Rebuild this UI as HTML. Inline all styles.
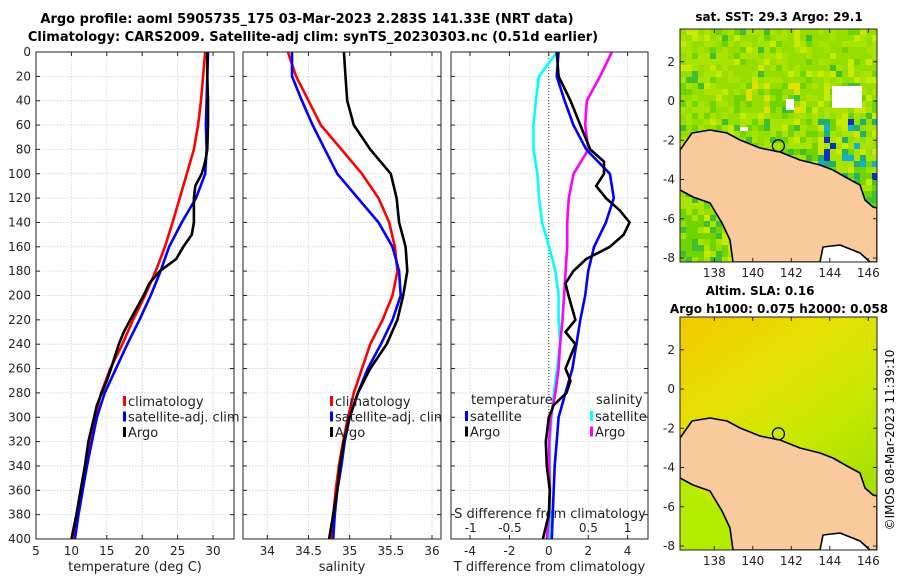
<!DOCTYPE html>
<html><head><meta charset="utf-8">
<style>
html,body{margin:0;padding:0;background:#fff;}
svg{display:block;font-family:"DejaVu Sans","Liberation Sans",sans-serif;}
</style></head>
<body>
<svg id="fig" width="900" height="580" viewBox="0 0 900 580" xmlns="http://www.w3.org/2000/svg">
<text x="307" y="23" font-size="13" font-weight="bold" text-anchor="middle">Argo profile: aoml 5905735_175 03-Mar-2023 2.283S 141.33E (NRT data)</text>
<text x="313" y="41" font-size="13" font-weight="bold" text-anchor="middle">Climatology: CARS2009. Satellite-adj clim: synTS_20230303.nc (0.51d earlier)</text>
<text x="779" y="21" font-size="12" font-weight="bold" text-anchor="middle">sat. SST: 29.3 Argo: 29.1</text>
<text x="760" y="295" font-size="12" font-weight="bold" text-anchor="middle">Altim. SLA: 0.16</text>
<text x="779" y="313" font-size="12" font-weight="bold" text-anchor="middle">Argo h1000: 0.075 h2000: 0.058</text>
<text transform="translate(894,440) rotate(-90)" font-size="12" text-anchor="middle">©IMOS 08-Mar-2023 11:39:10</text>
<g id="layer"></g>
</svg>
<script>
// ---- data ----
const depths = [0,20,40,60,80,100,120,140,160,180,200,220,240,260,280,300,320,340,360,380,400];
const tempClim = [28.9,28.6,28.3,27.9,27.3,26.3,25.3,24.3,23.2,21.9,20.4,18.7,17.2,15.5,14.2,13.3,12.6,12.0,11.4,10.9,10.4];
const tempSat  = [29.3,29.2,29.1,29.0,29.1,28.9,27.6,25.6,23.8,22.6,21.2,19.6,17.9,16.3,14.7,13.6,12.9,12.2,11.6,11.0,10.5];
const argoDepths = [0,20,40,60,80,90,100,110,120,130,140,150,160,170,180,190,200,220,230,240,260,270,280,290,300,320,340,360,380,400];
const tempArgo = [29.2,29.2,29.3,29.3,29.2,28.9,28.4,27.5,27.3,27.3,27.3,27.0,25.8,24.8,22.5,21.0,20.2,18.3,17.4,16.7,15.6,15.0,14.3,13.6,13.2,12.4,11.9,11.3,10.7,10.0];
const salClim = [34.25,34.35,34.5,34.65,34.9,35.15,35.35,35.48,35.55,35.58,35.52,35.4,35.25,35.15,35.05,34.98,34.92,34.87,34.83,34.8,34.78];
const salSat  = [34.3,34.3,34.42,34.55,34.7,34.85,35.1,35.35,35.52,35.6,35.62,35.52,35.38,35.22,35.1,35.0,34.94,34.9,34.85,34.82,34.8];
const salArgo = [34.93,34.95,34.97,35.05,35.25,35.5,35.57,35.6,35.68,35.7,35.65,35.58,35.45,35.25,35.1,35.0,34.93,34.88,34.85,34.8,34.75];
const dTsat  = [0.5,0.4,0.8,1.25,1.9,3.1,3.3,2.9,2.3,2.0,1.85,1.6,1.4,1.2,0.85,0.5,0.4,0.3,0.25,0.2,0.15];
const dTargo = [0.4,0.5,1.1,1.6,2.1,2.8,2.8,2.4,2.9,3.6,4.1,3.8,3.1,1.9,1.25,0.85,1.0,1.35,0.85,1.35,0.85,1.1,0.9,0.25,0,-0.15,-0.1,0.05,0,-0.3];
const dSsat  = [0.1,-0.13,-0.17,-0.2,-0.2,-0.15,-0.13,-0.09,0,0.08,0.12,0.12,0.14,0.1,0.06,0.03,0.01,0.01,0.01,0.01,0.01];
const dSargo = [0.8,0.65,0.48,0.46,0.5,0.31,0.25,0.23,0.23,0.21,0.19,0.17,0.14,0.12,0.08,0.02,0,0,0.01,0,-0.03];
const depthTicks = [0,20,40,60,80,100,120,140,160,180,200,220,240,260,280,300,320,340,360,380,400];
const tempTicks = [5,10,15,20,25,30];
const salTicks = [34,34.5,35,35.5,36];
const dTTicks = [-4,-2,0,2,4];
const dSTicks = [-1,-0.5,0,0.5,1];
const lonTicks = [138,140,142,144,146];
const latTicks = [2,0,-2,-4,-6,-8];
const argoLon = 141.33, argoLat = -2.283;

// ---- helpers ----
const NS="http://www.w3.org/2000/svg";
const L=document.getElementById('layer');
function mk(tag,at,parent){const e=document.createElementNS(NS,tag);for(const k in at)e.setAttribute(k,at[k]);(parent||L).appendChild(e);return e;}
const TOP=52,BOT=539;
const yD=d=>TOP+(d/400)*(BOT-TOP);
function lin(d0,d1,r0,r1){return v=>r0+(v-d0)/(d1-d0)*(r1-r0);}

function panel(name,x0,x1,xs,ticks,fmt,xlabel,showY){
  const g=mk('g',{});
  
  
  for(const d of depthTicks){const l=mk('line',{x1:x0,x2:x1,y1:yD(d),y2:yD(d),stroke:'#c9d0e6','stroke-width':0.8,'stroke-dasharray':'1.5,1.5'},g);
    }
  for(const t of ticks){const X=xs(t);const l=mk('line',{x1:X,x2:X,y1:TOP,y2:BOT,stroke:'#c9d0e6','stroke-width':0.8,'stroke-dasharray':'1.5,1.5'},g);
    
    mk('line',{x1:X,x2:X,y1:BOT,y2:BOT-4,stroke:'#222'},g);mk('line',{x1:X,x2:X,y1:TOP,y2:TOP+4,stroke:'#222'},g);
    const tx=mk('text',{x:X,y:BOT+16,'font-size':12,'text-anchor':'middle',fill:'#222'},g);tx.textContent=fmt(t);
    }
  for(const d of depthTicks){mk('line',{x1:x0,x2:x0+4,y1:yD(d),y2:yD(d),stroke:'#222'},g);mk('line',{x1:x1,x2:x1-4,y1:yD(d),y2:yD(d),stroke:'#222'},g);
    if(showY){const tx=mk('text',{x:x0-5,y:yD(d)+4,'font-size':12,'text-anchor':'end',fill:'#222'},g);tx.textContent=d;
      }}
  if(xlabel){const tx=mk('text',{x:(x0+x1)/2,y:BOT+32,'font-size':13,'text-anchor':'middle',fill:'#222'},g);tx.textContent=xlabel;
    }
  return g;
}
function frame(g,x0,x1){const r=mk('rect',{x:x0,y:TOP,width:x1-x0,height:BOT-TOP,fill:'none',stroke:'#222','stroke-width':1},g);
  }
function series(g,name,vals,ds,xs,color,x0,x1){
  const pts=vals.map((v,i)=>Math.max(x0,Math.min(x1,xs(v))).toFixed(1)+','+yD(ds[i]).toFixed(1)).join(' ');
  const p=mk('polyline',{points:pts,fill:'none',stroke:color,'stroke-width':2.6,'stroke-linejoin':'round'},g);
  
  
}
function legend(g,x,y,items){
  items.forEach((it,i)=>{
    const yy=y+i*15.5;
    const m=mk('rect',{x:x,y:yy-10,width:3,height:10,fill:it[1]},g);
    
    const t=mk('text',{x:x+5,y:yy,'font-size':13,fill:'#222'},g);t.textContent=it[0];
    
  });
}

// panel 1 temperature
{const x0=36,x1=234,xs=lin(5,30,36,213);
 const g=panel('temperature-panel',x0,x1,xs,tempTicks,v=>v,'temperature (deg C)',true);
 series(g,'temp-climatology-line',tempClim,depths,xs,'#ff0000',x0,x1);
 series(g,'temp-satellite-line',tempSat,depths,xs,'#0000ff',x0,x1);
 series(g,'temp-argo-line',tempArgo,argoDepths,xs,'#000000',x0,x1);
 legend(g,123,406,[['climatology','#ff0000'],['satellite-adj. clim','#0000ff'],['Argo','#000']]);
 frame(g,x0,x1);}
// panel 2 salinity
{const x0=243,x1=441,xs=lin(34,36,267.3,432);
 const g=panel('salinity-panel',x0,x1,xs,salTicks,v=>v,'salinity',false);
 series(g,'sal-climatology-line',salClim,depths,xs,'#ff0000',x0,x1);
 series(g,'sal-satellite-line',salSat,depths,xs,'#0000ff',x0,x1);
 series(g,'sal-argo-line',salArgo,depths,xs,'#000000',x0,x1);
 const cp=mk('clipPath',{id:'cp2'});mk('rect',{x:x0,y:0,width:x1-x0,height:580},cp);
 const lg=mk('g',{'clip-path':'url(#cp2)'},g);
 legend(lg,330,406,[['climatology','#ff0000'],['satellite-adj. clim','#0000ff'],['Argo','#000']]);
 frame(g,x0,x1);}
// panel 3 differences
{const x0=451,x1=648,xs=lin(-4,4,470,627.6),ss=lin(-1,1,470.7,627.6);
 const g=panel('difference-panel',x0,x1,xs,dTTicks,v=>v,'T difference from climatology',false);
 const z=mk('line',{x1:xs(0),x2:xs(0),y1:TOP,y2:BOT,stroke:'#333','stroke-width':1,'stroke-dasharray':'1,2'},g);
 
 for(const t of dSTicks){const tx=mk('text',{x:ss(t),y:532,'font-size':12,'text-anchor':'middle',fill:'#222'},g);tx.textContent=t;
   }
 const st=mk('text',{x:550,y:518,'font-size':13,'text-anchor':'middle',fill:'#222'},g);st.textContent='S difference from climatology';
 
 series(g,'dS-satellite-line',dSsat,depths,ss,'#00ffff',x0,x1);
 series(g,'dS-argo-line',dSargo,depths,ss,'#ff00ff',x0,x1);
 series(g,'dT-satellite-line',dTsat,depths,xs,'#0000ff',x0,x1);
 series(g,'dT-argo-line',dTargo,argoDepths,xs,'#000000',x0,x1);
 const h1=mk('text',{x:471,y:404,'font-size':13,fill:'#222'},g);h1.textContent='temperature';
 
 const h2=mk('text',{x:596,y:404,'font-size':13,fill:'#222'},g);h2.textContent='salinity';
 
 legend(g,465,421,[['satellite','#0000ff'],['Argo','#000']]);
 legend(g,590,421,[['satellite','#00ffff'],['Argo','#ff00ff']]);
 frame(g,x0,x1);}

// ---- maps ----
const MX0=680,MX1=877;
const lonS=lin(138,146,714.3,868.3);
const coast=[[0,121],[12,104],[30,101],[47,104],[60,111],[80,119],[100,123],[120,131],[140,136],[153,141],[167,149],[180,156],[185,171],[193,178],[197,179],[197,233],[190,233],[180,224],[160,216],[143,218],[140,233],[53,233],[50,211],[42,194],[30,174],[13,168],[0,161]];
function hash(i,j,s){let h=(i*374761393+j*668265263+s*1274126177)|0;h=(h^(h>>>13))*1274126177|0;return ((h^(h>>>16))>>>0)/4294967295;}
function drawMap(name,top,kind){
  const latS=lin(0,-8,top+72,top+72+157);
  const g=mk('g',{});
  const W=MX1-MX0,H=233;
  const cid='mc'+top;const cp=mk('clipPath',{id:cid});mk('rect',{x:MX0,y:top,width:W,height:H},cp);
  const inner=mk('g',{'clip-path':'url(#'+cid+')'},g);
  if(kind==='sst'){
    const cs=6;
    for(let j=0;j*cs<H;j++)for(let i=0;i*cs<W;i++){
      const r=hash(i,j,1);let c;
      const fx=i*cs/W,fy=j*cs/H;
      const green=0.2+Math.max(0,fy-0.15)*1.2+(fx>0.6&&fy>0.3?0.25:0);
      if(r<0.12*green)c='#40c030';else if(r<0.45*green)c='#70d400';else if(r<0.55)c='#96dd00';else if(r<0.88)c='#a8e400';else c='#c8ea00';
      if(fy>0.22&&fy<0.36&&fx>0.3&&fx<0.6&&r>0.75)c='#e4e000';
      if(fx>0.7&&fy>0.38&&fy<0.62&&r<0.3)c=r<0.06?'#1030c0':(r<0.15?'#10b0d0':'#20b070');
      mk('rect',{x:MX0+i*cs,y:top+j*cs,width:cs,height:cs,fill:c},inner);
    }
    mk('rect',{x:832,y:top+57,width:30,height:22,fill:'#fff'},inner);
    mk('rect',{x:786,y:top+70,width:8,height:11,fill:'#fff'},inner);
    mk('rect',{x:740,y:top+98,width:8,height:4,fill:'#fff'},inner);
  } else {
    const gid='sg'+top;const gr=mk('linearGradient',{id:gid,x1:0,y1:0,x2:0.6,y2:1},g);
    mk('stop',{offset:'0','stop-color':'#f2c800'},gr);mk('stop',{offset:'0.35','stop-color':'#e6e000'},gr);
    mk('stop',{offset:'0.65','stop-color':'#c8e800'},gr);mk('stop',{offset:'1','stop-color':'#a0e000'},gr);
    mk('rect',{x:MX0,y:top,width:W,height:H,fill:'url(#'+gid+')'},inner);
    mk('polygon',{points:MX0+','+(top+160)+' '+(MX0+50)+','+(top+200)+' '+(MX0+55)+','+(top+233)+' '+MX0+','+(top+233),fill:'#b4ec00'},inner);
  }
  const wp=mk('polygon',{points:(MX0+140)+','+(top+233)+' '+(MX0+143)+','+(top+218)+' '+(MX0+160)+','+(top+216)+' '+(MX0+180)+','+(top+224)+' '+(MX0+190)+','+(top+233),fill:'#fff'},inner);
  const pts=coast.map(p=>(MX0+p[0])+','+(top+p[1])).join(' ');
  const land=mk('polygon',{points:pts,fill:'#f9cb9c',stroke:'#000','stroke-width':1.6,'stroke-linejoin':'round'},inner);
  
  const ac=mk('circle',{cx:lonS(argoLon),cy:latS(argoLat),r:6,fill:'none',stroke:'#000','stroke-width':1.3},g);
  
  mk('rect',{x:MX0,y:top,width:W,height:H,fill:'none',stroke:'#222'},g);
  for(const t of latTicks){const Y=latS(t);mk('line',{x1:MX0,x2:MX0+4,y1:Y,y2:Y,stroke:'#222'},g);mk('line',{x1:MX1,x2:MX1-4,y1:Y,y2:Y,stroke:'#222'},g);
    const tx=mk('text',{x:MX0-5,y:Y+4,'font-size':12,'text-anchor':'end',fill:'#222'},g);tx.textContent=t;
    }
  for(const t of lonTicks){const X=lonS(t);mk('line',{x1:X,x2:X,y1:top+H,y2:top+H-4,stroke:'#222'},g);mk('line',{x1:X,x2:X,y1:top,y2:top+4,stroke:'#222'},g);
    const tx=mk('text',{x:X,y:top+H+15,'font-size':12,'text-anchor':'middle',fill:'#222'},g);tx.textContent=t;
    }
}
drawMap('sst-map',29,'sst');
drawMap('sla-map',317,'sla');
</script>
</body></html>
